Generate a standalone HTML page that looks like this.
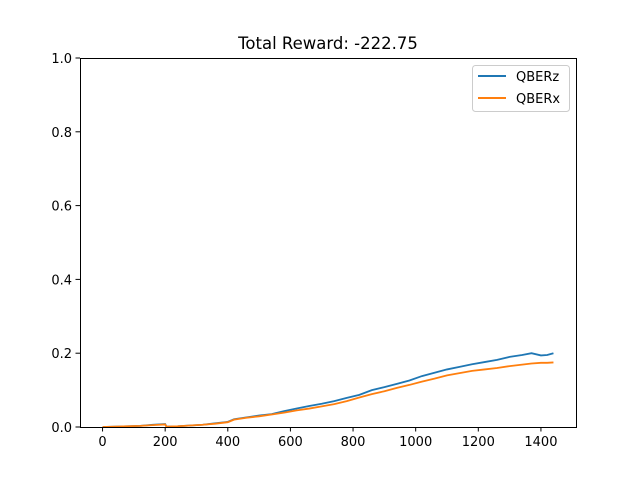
<!DOCTYPE html>
<html><head><meta charset="utf-8"><style>
body{margin:0;background:#fff}
svg text{font-family:"DejaVu Sans","Liberation Sans",sans-serif;fill:#000}
</style></head><body>
<svg id="chart" width="640" height="480" xmlns="http://www.w3.org/2000/svg">
<rect width="640" height="480" fill="#fff"/>
<text x="328" y="49" font-size="16.5" text-anchor="middle">Total Reward: -222.75</text>
<g id="ticks"></g>
<g id="series"></g>
<rect x="80.5" y="58.5" width="496" height="369" fill="none" stroke="#000" stroke-width="1"/>
<g>
<rect x="472.5" y="65.5" width="97" height="46" rx="3" fill="#fff" stroke="#ccc"/>
<line x1="478" y1="76" x2="506" y2="76" stroke="#1f77b4" stroke-width="2"/>
<text x="516" y="81" font-size="13">QBERz</text>
<line x1="478" y1="98" x2="506" y2="98" stroke="#ff7f0e" stroke-width="2"/>
<text x="516" y="103" font-size="13">QBERx</text>
</g>
</svg>
<script>
const xs=[0,40,80,120,160,200,204,240,280,320,360,400,420,460,500,540,580,620,660,700,740,780,820,860,900,940,980,1020,1060,1100,1140,1180,1220,1260,1300,1340,1370,1400,1420,1440];
const qberz=[0,.001,.002,.003,.006,.008,.001,.002,.004,.006,.01,.014,.021,.026,.031,.035,.043,.05,.057,.063,.07,.079,.087,.1,.108,.117,.126,.138,.147,.156,.163,.17,.176,.182,.19,.195,.2,.194,.195,.2];
const qberx=[0,.001,.002,.003,.005,.007,.001,.002,.004,.006,.009,.013,.02,.025,.029,.034,.039,.045,.05,.056,.062,.07,.08,.089,.097,.106,.114,.123,.131,.14,.146,.152,.156,.16,.165,.169,.172,.174,.174,.175];
const xTicks=[0,200,400,600,800,1000,1200,1400];
const yTicks=[0,0.2,0.4,0.6,0.8,1.0];
const yTickLabels=["0.0","0.2","0.4","0.6","0.8","1.0"];
const X=v=>80+(v+72)*496/1584, Y=v=>427-v*369;
const NS="http://www.w3.org/2000/svg";
const tg=document.getElementById('ticks'), sg=document.getElementById('series');
function mk(t,a,p){const e=document.createElementNS(NS,t);for(const k in a)e.setAttribute(k,a[k]);p.appendChild(e);return e;}
xTicks.forEach(v=>{
 const l=mk('line',{x1:X(v),x2:X(v),y1:427,y2:431.5,stroke:'#000'},tg);
 
 
 const t=mk('text',{x:X(v),y:446,'font-size':13,'text-anchor':'middle'},tg);t.textContent=v;
 
 
});
yTicks.forEach((v,i)=>{
 const l=mk('line',{x1:75.5,x2:80,y1:Y(v),y2:Y(v),stroke:'#000'},tg);
 
 
 const t=mk('text',{x:72,y:Y(v)+5,'font-size':13,'text-anchor':'end'},tg);t.textContent=yTickLabels[i];
 
 
});
[[qberz,'#1f77b4','line-qberz'],[qberx,'#ff7f0e','line-qberx']].forEach(([d,c,n])=>{
 const p=mk('polyline',{points:xs.map((x,i)=>X(x)+','+Y(d[i])).join(' '),fill:'none',stroke:c,'stroke-width':1.8},sg);
 
 
});
</script>
</body></html>
